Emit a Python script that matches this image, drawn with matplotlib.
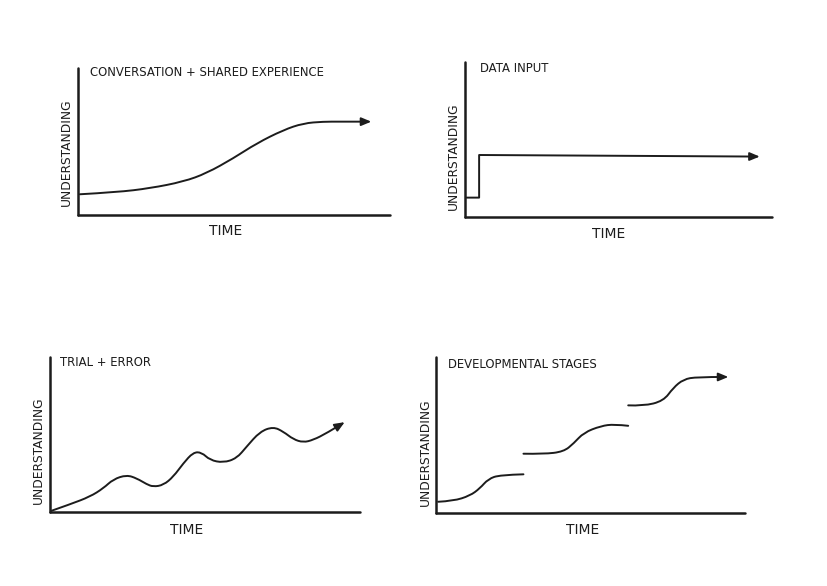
import matplotlib
matplotlib.use("Agg")
import matplotlib.pyplot as plt
from matplotlib.path import Path
from matplotlib.patches import PathPatch

W, H = 828, 586
INK = "#1c1c1c"

# ---- data (arbitrary 0-100 units) ----
conv_x = [0.6, 12.4, 23.1, 33.8, 41.2, 49.8, 57.3, 65.8, 72.2, 78.6, 84.0, 92.5]
conv_y = [14.1, 15.5, 18.2, 22.7, 28.4, 38.6, 48.8, 57.8, 62.4, 63.5, 63.5, 63.5]

data_x = [0.5, 4.6, 4.6, 94.5]
data_y = [12.5, 12.5, 40.0, 39.0]

trial_x = [0.5, 6.5, 12.9, 17.2, 20.4, 24.7, 28.0, 31.2, 33.3, 36.6, 39.8, 43.0, 46.2,
           48.9, 51.6, 55.9, 60.2, 63.4, 67.7, 72.0, 75.3, 78.5, 81.7, 84.9, 89.2, 94.1]
trial_y = [0.8, 5.0, 9.9, 15.3, 21.1, 23.9, 21.7, 17.9, 16.3, 17.4, 22.8, 31.4, 38.5,
           38.5, 33.5, 31.8, 34.6, 42.1, 51.8, 55.0, 51.8, 46.9, 44.9, 46.5, 50.8, 56.8]

stage1_x = [0.7, 5.6, 11.0, 14.2, 16.9, 20.7, 28.3]
stage1_y = [7.2, 7.7, 11.1, 15.8, 21.8, 24.4, 24.8]
stage2_x = [28.3, 34.9, 41.3, 44.6, 47.8, 53.4, 57.7, 62.2]
stage2_y = [38.0, 37.8, 39.3, 44.7, 51.5, 55.8, 56.9, 55.9]
stage3_x = [62.2, 67.1, 73.6, 76.8, 80.1, 84.4, 93.1]
stage3_y = [69.0, 68.6, 71.8, 80.3, 85.7, 87.2, 87.2]

titles = ["CONVERSATION + SHARED EXPERIENCE", "DATA INPUT", "TRIAL + ERROR",
          "DEVELOPMENTAL STAGES"]
xlabel = "TIME"
ylabel = "UNDERSTANDING"

plt.rcParams["font.family"] = ["DejaVu Sans"]

fig = plt.figure(figsize=(W / 100, H / 100), dpi=100)
fig.patch.set_facecolor("white")

# panel boxes in pixels: (left, top, right, bottom)
boxes = [(78, 68, 390, 215), (465, 62, 772, 217), (50, 357, 360, 512), (436, 357, 745, 513)]
title_pos = [(90, 73), (480, 69), (60, 362), (448, 365)]
time_pos = [(226, 231), (609, 234), (187, 530), (583, 530)]
und_pos = [(66, 152), (453, 156), (38, 450), (425, 452)]


def make_ax(box):
    l, t, r, b = box
    ax = fig.add_axes([l / W, 1 - b / H, (r - l) / W, (b - t) / H])
    ax.set_xlim(0, 100)
    ax.set_ylim(0, 100)
    for s in ["top", "right"]:
        ax.spines[s].set_visible(False)
    for s in ["left", "bottom"]:
        ax.spines[s].set_linewidth(1.8)
        ax.spines[s].set_color(INK)
        ax.spines[s].set_capstyle("round")
    ax.set_xticks([])
    ax.set_yticks([])
    ax.patch.set_alpha(0)
    return ax


def curve(ax, xs, ys, arrow=False, smooth=True):
    pts = list(zip(xs, ys))
    verts = [pts[0]]
    codes = [Path.MOVETO]
    if smooth and len(pts) > 2:
        for i in range(1, len(pts) - 1):
            mid = ((pts[i][0] + pts[i + 1][0]) / 2, (pts[i][1] + pts[i + 1][1]) / 2)
            if i == len(pts) - 2:
                mid = pts[i + 1]
            verts += [pts[i], mid]
            codes += [Path.CURVE3, Path.CURVE3]
    else:
        for p in pts[1:]:
            verts.append(p)
            codes.append(Path.LINETO)
    patch = PathPatch(Path(verts, codes), facecolor="none", edgecolor=INK, lw=1.4,
                      joinstyle="round", capstyle="round", clip_on=False)
    ax.add_patch(patch)
    if arrow:
        dx = xs[-1] - xs[-2]
        dy = ys[-1] - ys[-2]
        n = (dx ** 2 + dy ** 2) ** 0.5
        ax.annotate("", xy=(xs[-1] + 1.5 * dx / n, ys[-1] + 1.5 * dy / n),
                    xytext=(xs[-1] - 1.0 * dx / n, ys[-1] - 1.0 * dy / n),
                    arrowprops=dict(arrowstyle="-|>,head_length=0.6,head_width=0.25",
                                    color=INK, lw=1.3, shrinkA=0, shrinkB=0),
                    annotation_clip=False)


axes = [make_ax(b) for b in boxes]
curve(axes[0], conv_x, conv_y, arrow=True)
curve(axes[1], data_x, data_y, arrow=True, smooth=False)
curve(axes[2], trial_x, trial_y, arrow=True)
curve(axes[3], stage1_x, stage1_y)
curve(axes[3], stage2_x, stage2_y)
curve(axes[3], stage3_x, stage3_y, arrow=True)

for i in range(4):
    tx, ty = title_pos[i]
    fig.text(tx / W, 1 - ty / H, titles[i], fontsize=8.4, color=INK,
             ha="left", va="center")
    x, y = time_pos[i]
    fig.text(x / W, 1 - y / H, xlabel, fontsize=10, color=INK, ha="center", va="center")
    x, y = und_pos[i]
    fig.text(x / W, 1 - y / H, ylabel, fontsize=8.8, color=INK, ha="center",
             va="center", rotation=90)

fig.savefig("out.png", dpi=100, facecolor="white")
